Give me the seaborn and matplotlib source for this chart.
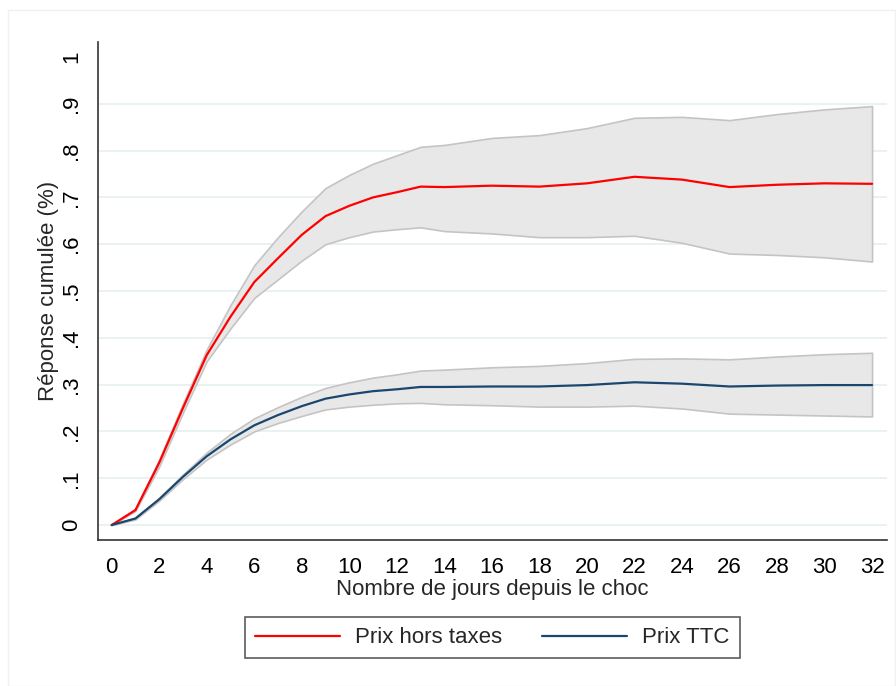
import matplotlib
matplotlib.use("Agg")
import matplotlib.pyplot as plt
import seaborn as sns
import numpy as np
import pandas as pd

# Data
days = [0, 1, 2, 3, 4, 5, 6, 7, 8, 9, 10, 11, 12, 13, 14, 16, 18, 20, 22, 24, 26, 28, 30, 32]

ht_mean = [0, 0.032, 0.133, 0.25, 0.363, 0.445, 0.519, 0.57, 0.62, 0.66, 0.682, 0.70, 0.711, 0.723, 0.722,
           0.725, 0.723, 0.73, 0.744, 0.738, 0.722, 0.727, 0.73, 0.729]
ht_upper = [0, 0.035, 0.14, 0.26, 0.375, 0.47, 0.555, 0.615, 0.67, 0.72, 0.748, 0.772, 0.79, 0.808, 0.812,
            0.827, 0.833, 0.848, 0.87, 0.872, 0.865, 0.878, 0.888, 0.895]
ht_lower = [0, 0.03, 0.125, 0.24, 0.35, 0.42, 0.485, 0.525, 0.565, 0.6, 0.615, 0.627, 0.632, 0.636, 0.628,
            0.623, 0.615, 0.615, 0.618, 0.603, 0.58, 0.577, 0.572, 0.563]

ttc_mean = [0, 0.014, 0.055, 0.103, 0.147, 0.183, 0.213, 0.235, 0.254, 0.27, 0.279, 0.286, 0.29, 0.295, 0.295,
            0.296, 0.296, 0.299, 0.305, 0.302, 0.296, 0.298, 0.299, 0.299]
ttc_upper = [0, 0.016, 0.058, 0.108, 0.155, 0.195, 0.228, 0.252, 0.274, 0.293, 0.305, 0.315, 0.322, 0.33, 0.332,
             0.337, 0.34, 0.346, 0.355, 0.356, 0.354, 0.36, 0.365, 0.368]
ttc_lower = [0, 0.012, 0.052, 0.098, 0.14, 0.172, 0.2, 0.218, 0.233, 0.247, 0.253, 0.257, 0.26, 0.261, 0.258,
             0.256, 0.253, 0.253, 0.255, 0.249, 0.238, 0.236, 0.234, 0.232]

series_names = ["Prix hors taxes", "Prix TTC"]
series_colors = ["#ff0000", "#1a476f"]

xticks = list(range(0, 33, 2))
yticks = [i / 10 for i in range(11)]
ytick_labels = ["0", ".1", ".2", ".3", ".4", ".5", ".6", ".7", ".8", ".9", "1"]

sns.set_style("white")
plt.rcParams["font.family"] = ["Liberation Sans", "DejaVu Sans"]

df = pd.DataFrame({
    "day": days * 2,
    "value": ht_mean + ttc_mean,
    "serie": [series_names[0]] * len(days) + [series_names[1]] * len(days),
})

fig = plt.figure(figsize=(8.96, 6.86), dpi=100)
ax = fig.add_axes([0.109, 0.2128, 0.881, 0.726])

# confidence bands
for lo, hi in [(ht_lower, ht_upper), (ttc_lower, ttc_upper)]:
    ax.fill_between(days, lo, hi, facecolor="#e8e8e8", edgecolor="#c4c4c4", linewidth=1.2, zorder=1)

sns.lineplot(data=df, x="day", y="value", hue="serie", palette=series_colors,
             linewidth=1.6, ax=ax, zorder=3)

ax.set_xlim(-0.59, 32.63)
ax.set_ylim(-0.032, 1.032)
ax.set_xticks(xticks)
ax.set_yticks(yticks)
ax.set_yticklabels(ytick_labels, rotation=90, va="center")
ax.tick_params(axis="both", direction="out", length=7, width=1, color="#333333",
               labelsize=16, labelcolor="black")
ax.tick_params(axis="x", pad=5)
ax.tick_params(axis="y", pad=4)
ax.yaxis.grid(True, color="#e6eff1", linewidth=1.2)
ax.set_axisbelow(True)
ax.get_ygridlines()[-1].set_visible(False)

for side in ["top", "right"]:
    ax.spines[side].set_visible(False)
for side in ["left", "bottom"]:
    ax.spines[side].set_color("#333333")
    ax.spines[side].set_linewidth(1.2)

ax.set_xlabel("Nombre de jours depuis le choc", fontsize=16, labelpad=1)
ax.set_ylabel("Réponse cumulée (%)", fontsize=16, labelpad=2)

handles, labels = ax.get_legend_handles_labels()
leg = ax.legend(handles, labels, loc="upper center", bbox_to_anchor=(0.5, -0.133), ncol=2,
                fontsize=16, frameon=True, fancybox=False, edgecolor="#333333",
                handlelength=3.8, columnspacing=1.8, borderpad=0.45, handletextpad=0.7)
leg.get_frame().set_linewidth(1.2)

# faint outer graph region border
fig.patches.append(plt.Rectangle((0.009, 0.0), 0.99, 0.985, transform=fig.transFigure,
                                 fill=False, edgecolor="#f0f0f0", linewidth=1))

fig.savefig("out.png", dpi=100)
